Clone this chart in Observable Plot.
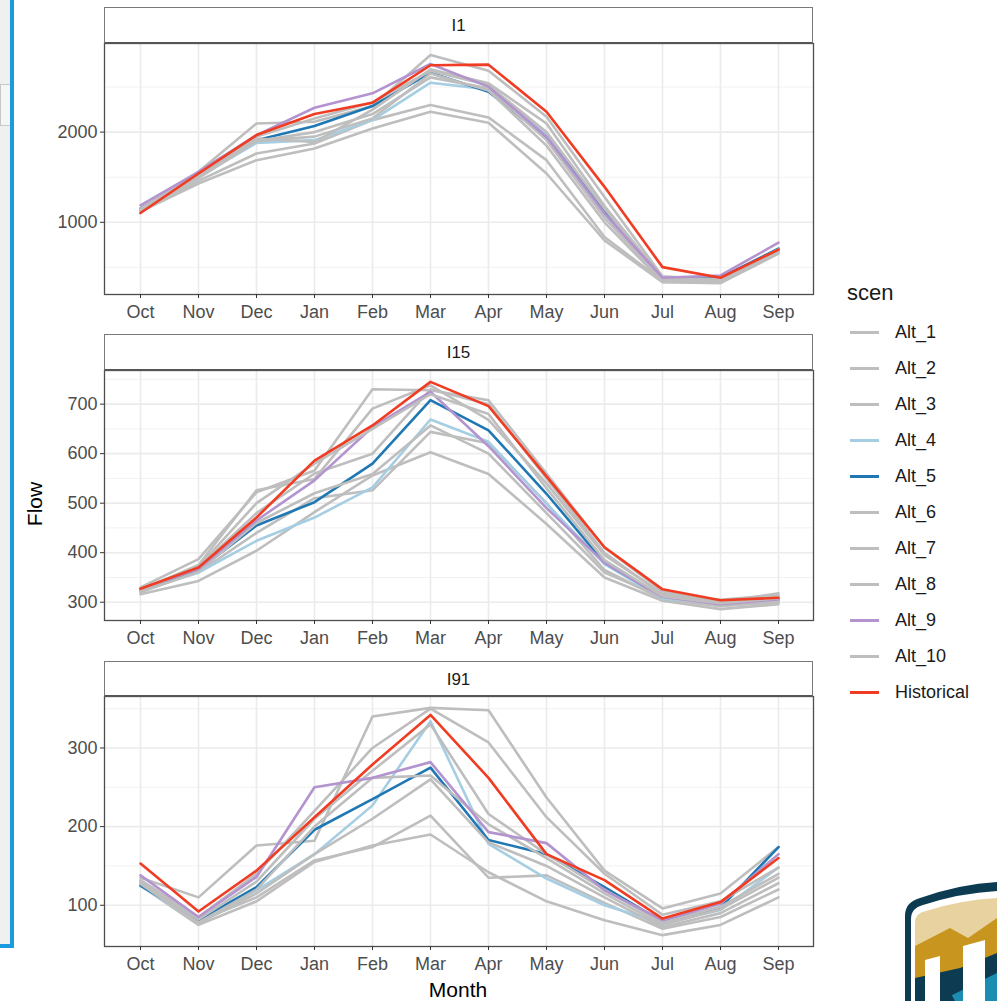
<!DOCTYPE html>
<html><head><meta charset="utf-8">
<script src="https://cdn.jsdelivr.net/npm/d3@7"></script>
<script src="https://cdn.jsdelivr.net/npm/@observablehq/plot@0.6"></script>
<style>
body{margin:0;background:#fff;font-family:"Liberation Sans",Arial,sans-serif;}
#root{position:relative;width:997px;height:1001px;overflow:hidden;background:#fff;}
.strip{position:absolute;left:104px;width:709px;border:1.5px solid #7a7a7a;border-bottom:2px solid #555;background:#fff;box-sizing:border-box;text-align:center;font-size:17px;color:#1a1a1a;padding-top:2px;}
.panel{position:absolute;left:0;}
.legend{position:absolute;left:833px;top:280px;font-size:18px;color:#1a1a1a;}
.legend .title{position:absolute;left:14px;top:0;font-size:22px;white-space:nowrap;}
.item{position:absolute;left:0;height:22px;}
.item .sw{position:absolute;left:17px;top:10px;width:29px;height:3px;}
.item .lb{position:absolute;left:62px;top:0;white-space:nowrap;line-height:22px;}
.ytitle{position:absolute;left:35px;top:504px;transform:translate(-50%,-50%) rotate(-90deg);font-size:21px;color:#000;white-space:nowrap;}
.xtitle{position:absolute;left:458px;top:990px;transform:translate(-50%,-50%);font-size:21px;color:#000;white-space:nowrap;}
</style></head>
<body><div id="root"></div>
<script>
// ---------- data ----------
const months = ["Oct","Nov","Dec","Jan","Feb","Mar","Apr","May","Jun","Jul","Aug","Sep"];
const scenarios = ["Alt_1","Alt_2","Alt_3","Alt_4","Alt_5","Alt_6","Alt_7","Alt_8","Alt_9","Alt_10","Historical"];
const scenColors = ["#bebebe","#bebebe","#bebebe","#a6cee3","#1f78b4","#bebebe","#bebebe","#bebebe","#b394cf","#bebebe","#f03c22"];
const sites = ["I1","I15","I91"];

// rows follow scenarios order
const flowI1 = [
  [1130,1560,2096,2115,2290,2856,2681,2170,1281,400,360,700],
  [1120,1430,1689,1819,2041,2226,2104,1541,800,337,326,652],
  [1120,1460,1763,1874,2133,2300,2163,1689,837,350,335,660],
  [1152,1504,1881,1911,2133,2548,2474,1985,1097,374,385,708],
  [1152,1522,1911,2067,2289,2659,2448,1940,1133,374,385,708],
  [1140,1500,1930,1890,2250,2696,2541,2096,1180,380,370,690],
  [1130,1520,1900,2000,2200,2607,2485,1911,1050,360,350,680],
  [1150,1540,1950,2150,2330,2680,2520,2000,1150,370,360,700],
  [1189,1559,1967,2270,2430,2755,2504,1948,1097,386,411,774],
  [1130,1490,1900,1950,2150,2650,2460,1850,1000,340,340,670],
  [1103,1541,1967,2200,2326,2741,2748,2226,1393,503,385,697]
];
const flowI15 = [
  [330,387,522,566,730,728,708,560,410,322,300,318],
  [316,343,404,482,556,603,559,458,350,303,286,296],
  [322,360,440,510,526,644,621,500,365,306,292,300],
  [325,360,424,471,532,669,624,499,377,307,298,305],
  [326,365,455,502,580,708,647,519,380,311,298,305],
  [325,375,526,549,691,738,668,540,395,318,300,312],
  [324,370,480,560,600,730,700,550,400,315,305,315],
  [320,362,460,520,559,657,600,480,360,310,295,302],
  [327,367,465,546,654,725,615,490,380,311,296,306],
  [326,372,500,580,650,720,680,530,385,312,298,308],
  [327,370,471,586,657,745,696,554,411,326,304,309]
];
const flowI91 = [
  [135,110,176,182,340,351,348,237,144,96,115,174],
  [125,75,105,155,176,190,142,105,81,62,75,110],
  [130,80,110,157,174,214,135,138,103,70,85,120],
  [125,78,119,165,227,334,178,134,100,77,94,148],
  [125,81,123,196,235,275,183,165,123,79,97,174],
  [132,85,140,220,300,350,307,212,140,88,105,148],
  [128,78,120,200,262,265,203,160,115,75,95,135],
  [130,82,130,210,271,330,216,165,120,78,98,140],
  [138,85,136,250,262,282,193,179,119,81,102,165],
  [127,77,115,165,210,260,180,150,110,72,90,128],
  [153,92,144,212,279,342,262,165,132,83,104,160]
];
const flowBySite = [flowI1, flowI15, flowI91];
const yTicks = [[1000,2000],[300,400,500,600,700],[100,200,300]];
const yMinor = [[500,1500,2500],[350,450,550,650,750],[150,250,350]];

// ---------- layout ----------
const root = document.getElementById("root");
const layout = [
  {stripTop:7, stripBottom:43, plotBottom:294},
  {stripTop:334, stripBottom:370, plotBottom:620},
  {stripTop:661, stripBottom:696, plotBottom:946}
];

// left decoration (window edge)
root.insertAdjacentHTML("beforeend",
  `<div style="position:absolute;left:0;top:0;width:11px;height:946px;background:#f0f0f0"></div>
   <div style="position:absolute;left:0;top:84px;width:9px;height:40px;border:1px solid #c8c8c8;background:#f6f6f6"></div>
   <div style="position:absolute;left:10px;top:0;width:4px;height:948px;background:#1a9be0"></div>
   <div style="position:absolute;left:0;top:944px;width:14px;height:4px;background:#1a9be0"></div>`);

sites.forEach((site, si) => {
  const L = layout[si];
  const rows = [];
  flowBySite[si].forEach((vals, k) => vals.forEach((v, m) => rows.push({scen: scenarios[k], month: months[m], flow: v})));
  const [lo, hi] = d3.extent(rows, d => d.flow);
  const pad = (hi - lo) * 0.05;
  const plotH = L.plotBottom - L.stripBottom;
  const mB = 36;
  const chart = Plot.plot({
    width: 830, height: plotH + mB,
    marginLeft: 104, marginRight: 17, marginTop: 0, marginBottom: mB,
    style: {fontFamily: '"Liberation Sans", Arial, sans-serif', fontSize: "18px", color: "#4d4d4d", background: "transparent", overflow: "visible"},
    x: {type: "point", domain: months, padding: 0.6},
    y: {domain: [lo - pad, hi + pad]},
    color: {domain: scenarios, range: scenColors},
    marks: [
      Plot.ruleY(yMinor[si].filter(t => t > lo - pad && t < hi + pad), {stroke: "#f2f2f2", strokeWidth: 1}),
      Plot.ruleY(yTicks[si], {stroke: "#ebebeb", strokeWidth: 1.6}),
      Plot.ruleX(months, {stroke: "#ebebeb", strokeWidth: 1.6}),
      Plot.line(rows, {x: "month", y: "flow", z: "scen", stroke: "scen", strokeWidth: 2.6, strokeLinejoin: "round", strokeLinecap: "round"}),
      Plot.frame({stroke: "#4d4d4d", strokeWidth: 1.3}),
      Plot.axisX({label: null, tickSize: 4, tickPadding: 7, stroke: "#333", fill: "#4d4d4d"}),
      Plot.axisY({ticks: yTicks[si], label: null, tickSize: 4, tickPadding: 3, stroke: "#333", fill: "#4d4d4d", tickFormat: d => String(d)})
    ]
  });
  chart.classList.add("panel");
  chart.style.position = "absolute";
  chart.style.top = L.stripBottom + "px";
  root.appendChild(chart);
  const strip = document.createElement("div");
  strip.className = "strip";
  strip.style.top = L.stripTop + "px";
  strip.style.height = (L.stripBottom - L.stripTop + 1) + "px";
  strip.style.lineHeight = (L.stripBottom - L.stripTop - 4) + "px";
  strip.textContent = site;
  root.appendChild(strip);
});

// axis titles
root.insertAdjacentHTML("beforeend", `<div class="ytitle">Flow</div><div class="xtitle">Month</div>`);

// legend
const leg = document.createElement("div");
leg.className = "legend";
leg.innerHTML = `<div class="title">scen</div>`;
scenarios.forEach((s, i) => {
  const it = document.createElement("div");
  it.className = "item";
  it.style.top = (41 + i * 36) + "px";
  it.innerHTML = `<div class="sw" style="background:${scenColors[i]}"></div><div class="lb">${s}</div>`;
  leg.appendChild(it);
});
root.appendChild(leg);

// logo decoration (bottom right)
root.insertAdjacentHTML("beforeend", `
<svg style="position:absolute;left:900px;top:878px" width="97" height="123" viewBox="0 0 97 123">
  <path d="M5,123 L5,38 Q5,24 20,20 Q60,6 97,4 L97,123 Z" fill="#0d3b52"/>
  <path d="M11,123 L11,41 Q11,30 23,27 Q60,15 97,13 L97,123 Z" fill="#fff"/>
  <path d="M15,123 L15,45 Q15,35 26,33 Q60,22 97,20 L97,123 Z" fill="#e8d3a0"/>
  <path d="M15,123 L15,68 L50,50 L68,60 L97,40 L97,123 Z" fill="#c8961e"/>
  <path d="M15,123 L15,100 L60,90 L97,75 L97,123 Z" fill="#0d3b52"/>
  <path d="M40,123 L97,95 L97,123 Z" fill="#1a8db0"/>
  <path d="M25,123 L25,82 L40,78 L40,123 Z" fill="#fff"/>
  <path d="M63,123 L63,68 L85,62 L85,123 Z" fill="#fff"/>
  <path d="M40,123 L40,96 L55,123 Z" fill="#0d3b52"/>
</svg>`);
</script>
</body></html>
